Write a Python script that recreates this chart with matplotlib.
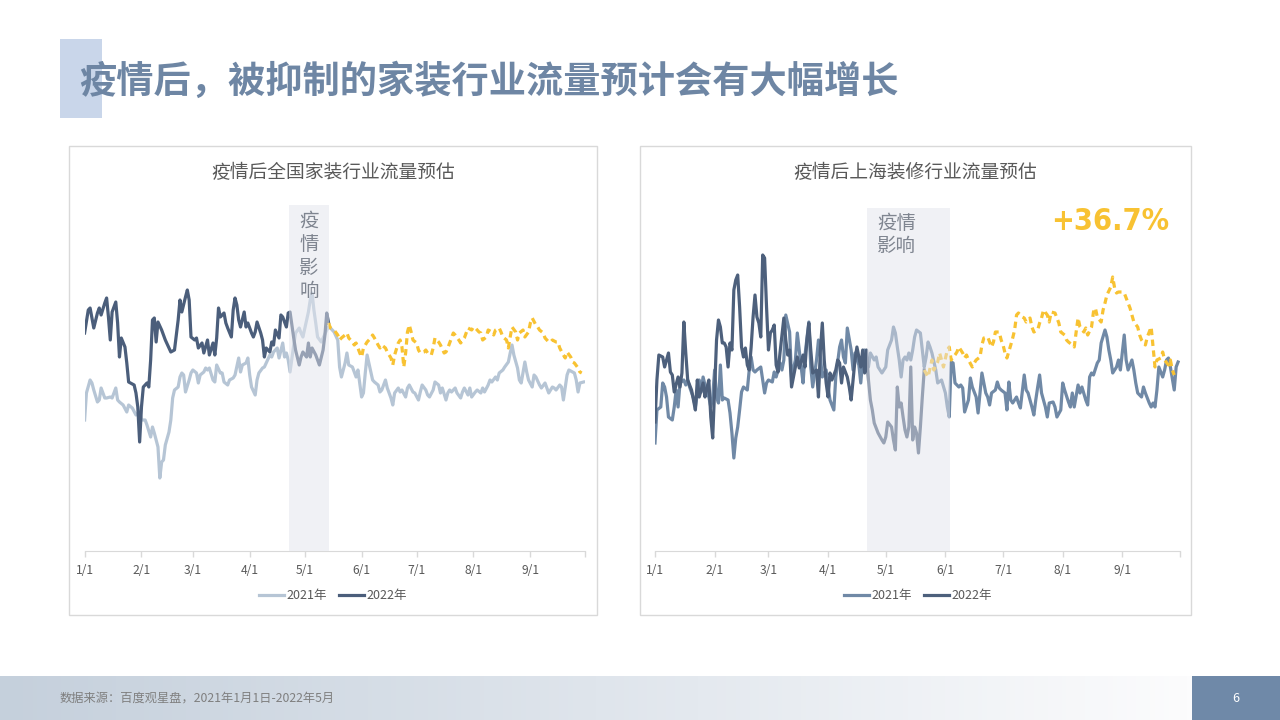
import numpy as np
import matplotlib
matplotlib.use("Agg")
import matplotlib.pyplot as plt
from matplotlib import font_manager
from matplotlib.patches import Rectangle
from matplotlib.colors import LinearSegmentedColormap

plt.rcParams['font.family'] = ['Noto Sans CJK SC', 'DejaVu Sans']

# x axis: day of year (0 = 1/1), one tick per month start
month_ticks = [0, 31, 59, 90, 120, 151, 181, 212, 243, 273]
month_labels = ['1/1', '2/1', '3/1', '4/1', '5/1', '6/1', '7/1', '8/1', '9/1', '']

# ---------- national home-decoration traffic (day, index) ----------
nat_2021 = [(0,131),(1,158),(3,171),(4,168),(5,161),(7,149),(8,151),(9,163),(11,153),(12,153),(14,154),(15,153),
            (17,163),(18,151),(19,149),(21,146),(23,139),(24,146),(26,143),(28,136),(30,139),(31,131),(33,131),
            (34,126),(36,114),(37,124),(38,118),(40,104),(41,73),(42,89),(43,91),(44,106),(46,119),(47,131),
            (48,153),(49,161),(51,164),(52,174),(53,178),(54,176),(55,159),(57,171),(58,178),(59,181),(61,178),
            (62,168),(63,176),(65,179),(66,183),(67,181),(68,183),(70,171),(71,169),(72,186),(74,178),(75,178),
            (76,169),(78,166),(79,171),(81,173),(82,176),(84,193),(85,179),(86,186),(88,188),(89,193),(90,176),
            (91,164),(93,156),(94,171),(95,178),(97,183),(98,184),(99,188),(101,196),(102,194),(103,199),(105,203),
            (106,193),(108,208),(109,194),(110,198),(111,191),(112,179),(114,206),(115,218),(117,223),(118,218),
            (119,214),(121,231),(122,239),(123,251),(124,258),(125,241),(126,228),(127,214),(129,209),(130,213),
            (132,221),(133,224),(134,223),(136,219),(138,211),(139,184),(140,174),(142,188),(143,198),(144,186),
            (146,184),(147,179),(148,174),(149,181),(151,154),(152,158),(153,178),(154,196),(156,179),(157,171),
            (158,169),(160,166),(161,159),(162,161),(164,171),(165,163),(167,153),(168,146),(169,158),(171,163),
            (172,159),(173,161),(175,154),(176,163),(177,166),(179,159),(180,158),(182,151),(183,159),(184,166),
            (186,161),(187,156),(188,154),(190,161),(191,169),(193,166),(194,158),(195,163),(197,151),(198,158),
            (199,161),(200,159),(202,163),(203,158),(205,153),(206,159),(207,163),(209,156),(210,163),(211,154),
            (213,159),(214,161),(216,158),(217,163),(218,159),(220,166),(221,171),(222,169),(224,174),(225,171),
            (226,178),(228,181),(229,184),(231,189),(232,198),(233,206),(234,196),(236,183),(237,171),(238,168),
            (240,189),(241,179),(242,171),(244,164),(245,176),(246,174),(248,166),(249,163),(251,168),(252,163),
            (253,158),(255,164),(256,163),(257,161),(259,166),(260,164),(261,151),(263,176),(264,181),(266,179),
            (267,178),(268,171),(269,159),(270,168),(272,169)]

nat_2022 = [(0,218),(2,241),(3,243),(5,223),(7,238),(8,243),(9,236),(11,248),(12,253),(13,234),(14,211),(15,239),
            (17,249),(18,228),(19,194),(20,213),(22,204),(23,188),(24,169),(27,166),(28,158),(29,144),(30,109),
            (31,144),(32,164),(34,168),(35,164),(36,191),(37,231),(38,233),(39,209),(40,229),(42,221),(44,211),
            (46,203),(47,199),(49,201),(51,231),(52,251),(53,239),(55,254),(56,261),(57,251),(58,214),(60,211),
            (61,213),(62,203),(64,208),(65,198),(67,211),(68,196),(70,208),(71,196),(72,213),(73,243),(74,234),
            (76,238),(77,228),(78,223),(80,214),(81,241),(82,253),(83,246),(84,231),(85,224),(87,239),(88,224),
            (89,228),(91,218),(92,214),(93,219),(94,229),(96,218),(97,211),(98,194),(99,203),(101,199),(102,209),
            (103,206),(104,221),(106,213),(107,236),(108,234),(110,224),(111,238),(112,239),(114,213),(115,201),
            (117,186),(118,194),(119,199),(121,194),(122,208),(123,194),(124,203),(126,196),(127,191),(128,186),
            (130,201),(131,216),(132,238),(133,228)]

nat_forecast = [(133,228),(134,223),(136,221),(138,216),(139,211),(140,213),(142,216),(143,218),(144,213),(146,209),
                (147,206),(148,208),(150,198),(151,194),(152,203),(153,206),(154,209),(156,213),(157,216),(158,213),
                (160,206),(161,203),(162,206),(164,203),(165,199),(167,193),(168,186),(169,196),(171,208),(172,211),
                (173,204),(174,184),(175,198),(176,219),(177,226),(178,219),(179,211),(181,208),(182,201),(183,198),
                (185,199),(186,201),(187,198),(189,196),(190,203),(191,213),(193,209),(194,206),(196,198),(197,199),
                (198,203),(200,213),(201,218),(202,216),(204,211),(205,208),(207,213),(208,218),(209,223),(211,221),
                (212,224),(213,223),(215,219),(216,218),(217,211),(219,214),(220,221),(222,219),(223,216),(224,221),
                (226,223),(227,219),(228,214),(230,211),(231,203),(232,214),(233,224),(235,219),(236,211),(237,218),
                (239,221),(240,214),(242,219),(243,228),(244,233),(246,226),(247,224),(248,221),(250,218),(251,213),
                (253,209),(254,209),(255,211),(257,209),(258,209),(259,203),(261,196),(262,193),(263,199),(265,194),
                (266,189),(267,188),(269,183),(270,179),(271,178)]

# ---------- Shanghai renovation traffic (day, index) ----------
sh_2021 = [(0,108),(1,141),(3,144),(4,168),(5,164),(6,154),(7,134),(9,131),(10,144),(11,161),(12,144),(13,168),
           (15,171),(16,166),(17,171),(18,164),(20,153),(21,144),(23,171),(24,159),(25,174),(27,158),(28,154),
           (29,144),(30,154),(31,181),(32,154),(33,148),(34,186),(35,151),(36,153),(38,151),(39,138),(40,118),
           (41,93),(42,113),(43,124),(44,141),(45,159),(46,164),(48,161),(49,181),(50,194),(51,181),(52,179),
           (53,181),(55,184),(56,171),(57,158),(58,168),(59,171),(61,169),(62,179),(63,174),(65,188),(66,181),
           (67,191),(68,236),(70,219),(71,174),(73,191),(74,218),(76,184),(77,168),(78,196),(80,229),(81,184),
           (82,164),(84,191),(85,211),(86,194),(87,174),(89,181),(90,164),(91,151),(93,141),(94,174),(96,204),
           (97,211),(98,194),(99,188),(100,223),(102,201),(103,181),(104,198),(106,186),(107,168),(108,191),
           (109,201),(110,194),(111,184),(112,198),(114,191),(115,194),(116,184),(118,178),(119,181),(120,184),
           (121,201),(123,211),(124,224),(125,218),(126,204),(127,191),(128,174),(129,191),(130,194),(131,191),
           (132,198),(133,191),(134,201),(135,214),(136,221),(138,218),(139,201),(140,184),(141,194),(142,209),
           (143,204),(144,198),(146,181),(147,168),(149,171),(151,158),(152,144),(153,134),(154,189),(155,188),
           (156,168),(158,164),(159,166),(160,163),(161,139),(163,151),(164,173),(165,164),(167,154),(168,138),
           (169,158),(170,178),(172,158),(173,154),(174,146),(175,158),(177,161),(178,169),(179,163),(180,161),
           (182,158),(183,141),(184,169),(185,151),(186,148),(188,154),(189,148),(190,143),(192,176),(193,161),
           (194,158),(196,144),(197,136),(198,151),(199,164),(200,176),(201,158),(203,144),(204,134),(205,148),
           (207,149),(208,144),(209,134),(211,141),(212,168),(213,161),(215,149),(216,144),(217,158),(218,144),
           (220,166),(221,158),(222,164),(224,151),(225,146),(226,174),(227,178),(228,176),(230,188),(231,191),
           (232,208),(234,221),(235,214),(236,201),(237,191),(238,178),(240,184),(241,191),(242,181),(244,216),
           (245,191),(246,181),(248,191),(249,181),(250,168),(251,158),(253,154),(254,164),(255,158),(257,148),
           (258,144),(259,148),(260,144),(261,161),(262,184),(264,174),(265,181),(266,191),(267,193),(268,184),
           (270,161),(271,184),(272,189)]

sh_2022 = [(0,129),(1,171),(2,196),(4,194),(5,184),(7,198),(8,179),(9,176),(10,159),(12,174),(13,164),(14,178),
           (15,229),(16,198),(17,171),(19,161),(20,151),(21,141),(22,171),(23,154),(25,168),(26,154),(27,163),
           (28,171),(29,134),(30,113),(31,161),(32,211),(33,231),(34,224),(35,208),(36,208),(37,204),(38,184),
           (39,208),(40,201),(41,261),(42,271),(43,276),(44,244),(45,204),(46,194),(47,203),(48,186),(49,181),
           (50,204),(51,234),(52,256),(53,234),(54,228),(55,214),(56,296),(57,293),(58,244),(59,201),(60,218),
           (61,221),(62,226),(63,186),(64,179),(65,198),(67,233),(68,211),(69,196),(70,201),(71,164),(73,184),
           (74,194),(75,183),(77,196),(78,184),(79,211),(80,228),(81,201),(82,178),(84,181),(85,154),(86,201),
           (87,228),(88,191),(89,168),(90,154),(91,178),(92,171),(94,181),(95,191),(96,188),(97,168),(98,184),
           (100,174),(101,164),(102,151),(103,171),(104,191),(105,204),(107,184),(108,201),(109,178),(110,201),
           (111,171),(112,151),(113,141),(114,128),(116,118),(118,111),(119,108),(120,114),(121,129),(123,124),
           (124,111),(125,101),(126,164),(127,144),(128,148),(129,134),(130,121),(131,114),(132,124),(133,184),
           (134,111),(135,124),(136,118),(137,98),(138,124),(139,154),(140,181)]

sh_forecast = [(140,181),(142,174),(144,191),(145,181),(147,189),(148,198),(149,191),(150,184),(152,201),(153,204),
               (154,191),(156,196),(157,199),(158,204),(160,198),(161,193),(162,196),(163,191),(165,184),(166,188),
               (167,191),(169,194),(170,206),(171,213),(173,214),(174,209),(175,204),(176,209),(177,219),(179,219),
               (180,211),(181,206),(182,198),(183,193),(185,206),(186,213),(187,221),(188,236),(189,238),(191,234),
               (192,233),(193,229),(195,233),(196,224),(197,219),(199,221),(200,228),(201,233),(202,241),(204,236),
               (205,229),(206,239),(208,238),(209,233),(210,228),(211,219),(213,216),(214,211),(215,209),(217,206),
               (218,204),(219,219),(220,233),(221,224),(223,219),(224,223),(225,216),(227,224),(228,239),(229,243),
               (230,234),(232,229),(233,241),(234,248),(235,256),(237,264),(238,274),(239,263),(240,258),(241,259),
               (243,259),(244,258),(245,253),(247,243),(248,236),(249,229),(251,224),(252,216),(253,211),(255,206),
               (256,214),(257,219),(258,224),(259,204),(260,184),(261,191),(263,193),(264,199),(265,191),(267,186),
               (268,191),(269,181),(270,176)]

W, H = 1280, 720


def fx(px):
    return px / W


def fy(py):
    return 1 - py / H


def draw_chart(ax, s21, s22, pred, c21, c22, shade, shade_top):
    d, v = zip(*s21)
    ax.plot(d, v, color=c21, lw=2.3, solid_joinstyle='round', zorder=2, label='2021年')
    d, v = zip(*s22)
    ax.plot(d, v, color=c22, lw=2.3, solid_joinstyle='round', zorder=2.1, label='2022年')
    d, v = zip(*pred)
    ax.plot(d, v, color='#f8c232', lw=2.3, ls=(0, (2, 1.4)), zorder=2.2)
    ax.axvspan(shade[0], shade[1], ymin=0, ymax=shade_top, color='#e3e5ed', alpha=0.5, lw=0, zorder=3)
    ax.set_xlim(0, 273)
    ax.set_ylim(0, 346)
    ax.set_xticks(month_ticks)
    ax.set_xticklabels(month_labels)
    ax.set_yticks([])
    for s in ['left', 'right', 'top']:
        ax.spines[s].set_visible(False)
    ax.spines['bottom'].set_color('#d9d9d9')
    ax.tick_params(axis='x', colors='#d9d9d9', labelcolor='#595959', length=4, width=1,
                   pad=5, labelsize=8.7)
    ax.patch.set_alpha(0)


# pick a narrow bold face for the big percentage, if one is installed
fonts = font_manager.fontManager.ttflist
if any(f.name == 'Liberation Sans Narrow' for f in fonts):
    pct_font = dict(family='Liberation Sans Narrow', fontsize=27)
elif any(f.name == 'DejaVu Sans' and f.stretch == 'condensed' for f in fonts):
    pct_font = dict(family='DejaVu Sans', stretch='condensed', fontsize=22)
else:
    pct_font = dict(family='Liberation Sans', fontsize=22)

fig = plt.figure(figsize=(12.8, 7.2), dpi=100)

# title bar and title
fig.add_artist(Rectangle((fx(60), fy(118)), 42 / W, 79 / H, transform=fig.transFigure,
                         color='#c9d6ea', lw=0, zorder=0))
fig.text(fx(79), fy(82), '疫情后，被抑制的家装行业流量预计会有大幅增长', fontsize=26.8,
         fontweight='bold', color='#6e86a4', va='center', ha='left')

# panel frames
for x0, x1 in [(69, 597), (640, 1191)]:
    fig.add_artist(Rectangle((fx(x0), fy(615)), (x1 - x0) / W, (615 - 146) / H,
                             transform=fig.transFigure, fill=False, ec='#d9d9d9', lw=1))

# left chart
ax1 = fig.add_axes([fx(84.6), fy(551), (585.4 - 84.6) / W, (551 - 205) / H])
draw_chart(ax1, nat_2021, nat_2022, nat_forecast, '#b6c5d5', '#4b5e7b', (111.4, 133.3), 1.0)
fig.text(fx(333), fy(173), '疫情后全国家装行业流量预估', ha='center', va='center',
         fontsize=13.5, color='#595959')
fig.text(fx(309), fy(211), '疫\n情\n影\n响', ha='center', va='top', fontsize=14,
         color='#7f8590', linespacing=1.15, zorder=5)
ax1.legend(loc='center', bbox_to_anchor=(fx(333), fy(596)), bbox_transform=fig.transFigure,
           ncol=2, frameon=False, fontsize=9, labelcolor='#595959', handlelength=2.0,
           handletextpad=0.2, columnspacing=1.0)

# right chart
ax2 = fig.add_axes([fx(655), fy(551), (1180 - 655) / W, (551 - 205) / H])
draw_chart(ax2, sh_2021, sh_2022, sh_forecast, '#7089a6', '#4d607c', (110.2, 153.4), 0.991)
fig.text(fx(915.5), fy(173), '疫情后上海装修行业流量预估', ha='center', va='center',
         fontsize=13.5, color='#595959')
fig.text(fx(877), fy(213), '疫情\n影响', ha='left', va='top', fontsize=14,
         color='#7f8590', linespacing=1.1, zorder=5)
fig.text(fx(1110), fy(222), '+36.7%', ha='center', va='center', fontweight='bold',
         color='#f8c232', **pct_font)
ax2.legend(loc='center', bbox_to_anchor=(fx(918), fy(596)), bbox_transform=fig.transFigure,
           ncol=2, frameon=False, fontsize=9, labelcolor='#595959', handlelength=2.0,
           handletextpad=0.2, columnspacing=1.0)

# footer band with gradient
fax = fig.add_axes([0, 0, 1192 / W, 44 / H])
grad = LinearSegmentedColormap.from_list('foot', ['#c5d0dc', '#dfe5ec', '#fcfcfd'])
fax.imshow(np.linspace(0, 1, 256).reshape(1, -1), aspect='auto', cmap=grad, extent=(0, 1, 0, 1))
fax.set_axis_off()
fig.add_artist(Rectangle((fx(1192), 0), 88 / W, 44 / H, transform=fig.transFigure,
                         color='#6f89a8', lw=0))
fig.text(fx(1236), fy(698), '6', color='white', fontsize=9, ha='center', va='center')
fig.text(fx(60), fy(698), '数据来源：百度观星盘，2021年1月1日-2022年5月', color='#7f7f7f',
         fontsize=8.8, ha='left', va='center')

fig.savefig('out.png', dpi=100)
